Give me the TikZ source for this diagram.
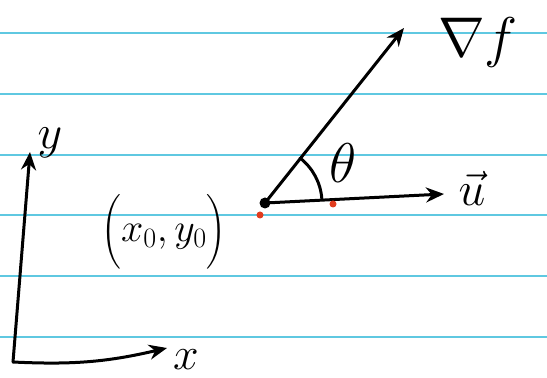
\documentclass[tikz,border=0pt]{standalone}
\usepackage{fix-cm}
\usepackage{amsmath}
\usepackage{xcolor}
\usepackage{tikz}
\usetikzlibrary{arrows.meta,positioning}
\definecolor{ruleblue}{RGB}{95,200,225}
\definecolor{penred}{RGB}{225,60,30}

\begin{document}
\begin{tikzpicture}[x=1pt, y=1pt, ink/.style={line width=3pt, line cap=round}, vec/.style={ink, -{Stealth[length=18pt, width=15pt]}}, rule/.style={ruleblue, line width=1.5pt}, lbl/.style={inner sep=0pt}, big/.style={font=\fontsize{#1}{#1}\selectfont}]
\useasboundingbox (0,0) rectangle (547,378);
\fill[white] (0,0) rectangle (547,378);
\foreach \ry in {345,284,223,163,102,41}
  \draw[rule] (0,\ry) -- (547,\ry);
\coordinate (orig) at (13,16);
\coordinate (xend) at (167,30);
\coordinate (yend) at (30,226);
\node[lbl, big=46] (xlab) at (186,18) {$x$};
\node[lbl, big=48] (ylab) at (50,235) {$y$};
\draw[vec] (orig) -- (yend);
\draw[vec] (orig) to[bend right=8] (xend);
\node[circle, fill, inner sep=0pt, minimum size=11pt] (p0) at (265,175) {};
\coordinate (gtip) at (404,350);
\coordinate (utip) at (444,184);
\draw[vec] (p0.center) -- (gtip);
\draw[vec] (p0.center) -- (utip);
\draw[ink] (p0.center) ++(52:57) arc[start angle=52, end angle=4, radius=57];
\fill[penred] (260,163) circle (3.5pt);
\fill[penred] (333,174) circle (3.5pt);
\node[lbl, big=56] (glab) at (478,335) {$\nabla f$};
\node[lbl, big=48] (ulab) at (472,190) {$\vec{u}$};
\node[lbl, big=56] (theta) at (343,215) {$\theta$};
\node[lbl, big=40] (plab) at (164,146) {$\Bigl(x_0,y_0\Bigr)$};
\end{tikzpicture}
\end{document}
